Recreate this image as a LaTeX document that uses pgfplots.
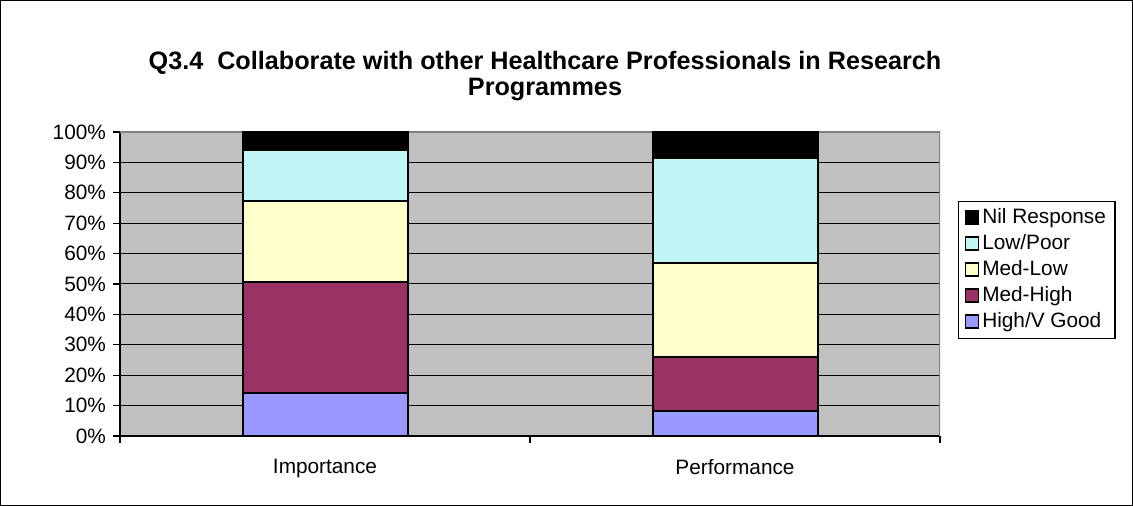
\documentclass[border=0pt]{standalone}
\usepackage{fontspec}
\setmainfont{Liberation Sans}
\usepackage{pgfplots}
\pgfplotsset{compat=1.18}

\definecolor{highv}{HTML}{9999FF}
\definecolor{medhigh}{HTML}{993366}
\definecolor{medlow}{HTML}{FFFFCC}
\definecolor{lowpoor}{HTML}{C2F5F5}
\definecolor{plotgray}{HTML}{C0C0C0}
\definecolor{bordergray}{HTML}{808080}

\begin{document}
\begin{tikzpicture}
% outer chart frame
\draw[black, line width=0.6pt] (0.3pt,0.3pt) rectangle (566.2pt,252.7pt);

\node[font=\bfseries\fontsize{12.6}{13}\selectfont, align=center] at (272.5pt,215pt)
  {Q3.4\ \ Collaborate with other Healthcare Professionals in Research\\Programmes};

\begin{axis}[
    at={(60pt,35pt)}, anchor=south west,
    scale only axis, width=410pt, height=152pt,
    ybar stacked, bar width=82.5pt,
    xmin=-0.5, xmax=1.5, ymin=0, ymax=100,
    axis x line*=bottom, axis y line*=left,
    axis line style={black, line width=0.6pt},
    axis background/.style={fill=plotgray},
    xtick={0,1}, xticklabels={Importance,Performance},
    major x tick style={draw=none},
    minor xtick={-0.5,0.5,1.5},
    ytick={0,10,...,100},
    yticklabel={\pgfmathprintnumber{\tick}\%},
    tick align=outside, major tick length=3.5pt, minor tick length=3.5pt,
    tick style={black, line width=0.6pt},
    ymajorgrids, grid style={black, line width=0.5pt},
    ticklabel style={font=\fontsize{10.4}{12}\selectfont},
    xticklabel style={yshift=-4.5pt},
    /pgf/number format/assume math mode=true,
    reverse legend,
    legend style={at={(1.022,0.773)}, anchor=north west, draw=black,
        line width=0.6pt, font=\fontsize{10.4}{12}\selectfont,
        inner xsep=3pt, inner ysep=2pt, row sep=0.5pt,
        nodes={inner sep=1.5pt, text height=7.5pt, text depth=2pt}},
    legend cell align=left,
    legend image code/.code={\draw[#1, draw=black, line width=0.8pt] (0pt,-3pt) rectangle (6.5pt,3.5pt);},
    every axis plot/.append style={draw=black, line width=1pt},
]
\addplot[fill=highv] coordinates {(0,14.2) (1,8.3)};
\addplot[fill=medhigh] coordinates {(0,36.6) (1,17.8)};
\addplot[fill=medlow] coordinates {(0,26.5) (1,30.7)};
\addplot[fill=lowpoor] coordinates {(0,16.7) (1,34.7)};
\addplot[fill=black] coordinates {(0,6.0) (1,8.5)};
\legend{High/V Good,Med-High,Med-Low,Low/Poor,Nil Response}
\draw[bordergray, line width=0.8pt] (rel axis cs:0,1) -- (rel axis cs:1,1) -- (rel axis cs:1,0);
\end{axis}
\end{tikzpicture}
\end{document}
